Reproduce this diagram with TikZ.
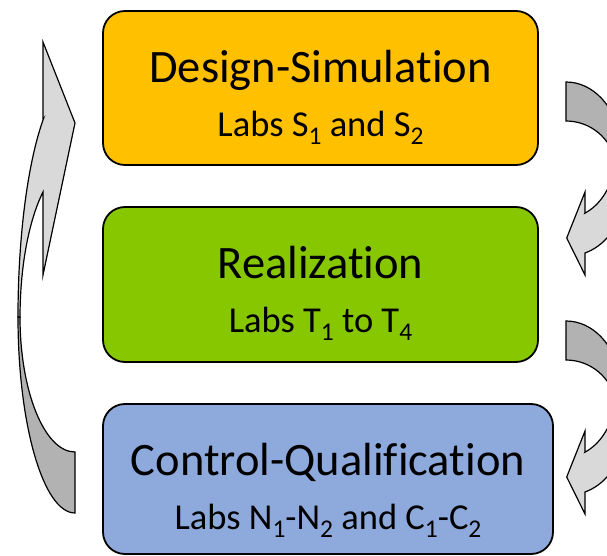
\documentclass[tikz,border=0pt]{standalone}
\usepackage{fontspec}
\setmainfont{Carlito}[RawFeature={-liga;-clig;-calt}]
\usetikzlibrary{positioning}
\definecolor{designorange}{HTML}{FFC000}
\definecolor{realgreen}{HTML}{87C700}
\definecolor{ctrlblue}{HTML}{8EA9DB}
\definecolor{backgray}{HTML}{B2B2B2}
\definecolor{frontgray}{HTML}{D9D9D9}
\newcommand\labsub[1]{\raisebox{-8.5pt}{\fontsize{25.5}{25.5}\selectfont #1}}
\tikzset{
  box/.style={draw, line width=1.8pt, rounded corners=22pt, inner sep=0pt},
  title/.style={font=\fontsize{46.5}{54}\selectfont, anchor=base, inner sep=0pt},
  sub/.style={font=\fontsize{36.5}{40}\selectfont, anchor=base, inner sep=0pt},
  backband/.style={draw, line width=1.2pt, fill=backgray},
  frontband/.style={draw, line width=1.2pt, fill=frontgray},
}
\begin{document}
\begin{tikzpicture}[x=1pt,y=1pt]
  \useasboundingbox (0,0) rectangle (607,555);
  \clip (0,0) rectangle (607,555);
  % boxes
  \node[box, fill=designorange, minimum width=435pt, minimum height=154pt] (design) at (320.5,467) {};
  \node[box, fill=realgreen, minimum width=435pt, minimum height=155pt] (realization) at (320.5,270.5) {};
  \node[box, fill=ctrlblue, minimum width=450pt, minimum height=150pt] (control) at (328,76) {};
  % texts
  \node[title] (designT) at ([yshift=-72pt]design.north) {Design-Simulation};
  \node[sub] (designS) at ([yshift=-126pt]design.north) {Labs S\labsub{1} and S\labsub{2}};
  \node[title] (realizationT) at ([yshift=-72pt]realization.north) {Realization};
  \node[sub] (realizationS) at ([yshift=-126pt]realization.north) {Labs T\labsub{1} to T\labsub{4}};
  \node[title] (controlT) at ([yshift=-72pt]control.north) {Control-Qualification};
  \node[sub] (controlS) at ([yshift=-126pt]control.north) {Labs N\labsub{1}-N\labsub{2} and C\labsub{1}-C\labsub{2}};
  % left arrow
  \draw[backband] (18,238) arc[start angle=180, end angle=270, x radius=57, y radius=196]
    -- (75,103) arc[start angle=270, end angle=180, x radius=55, y radius=135] -- cycle;
  \draw[frontband] (43,435) -- (43,513) -- (75,432) -- (43,280) -- (43,363)
    arc[start angle=125.6, end angle=180, x radius=55, y radius=154]
    -- (18,238) arc[start angle=180, end angle=124.1, x radius=57, y radius=238] -- cycle;
  % right arrows
  \foreach \dy in {0,-239}{
    \begin{scope}[yshift=\dy]
      \draw[backband] (566,473) arc[start angle=90, end angle=10, x radius=55, y radius=69]
        -- (615.2,393.5) arc[start angle=10, end angle=90, x radius=50, y radius=49] -- cycle;
      \draw[frontband] (585,342) -- (585,363) -- (566.7,317) -- (585,280) -- (585,302)
        arc[start angle=-69.8, end angle=-10, x radius=55, y radius=55.4]
        -- (615.2,390.7) arc[start angle=-10, end angle=-67.7, x radius=50, y radius=65] -- cycle;
    \end{scope}
  }
\end{tikzpicture}
\end{document}
